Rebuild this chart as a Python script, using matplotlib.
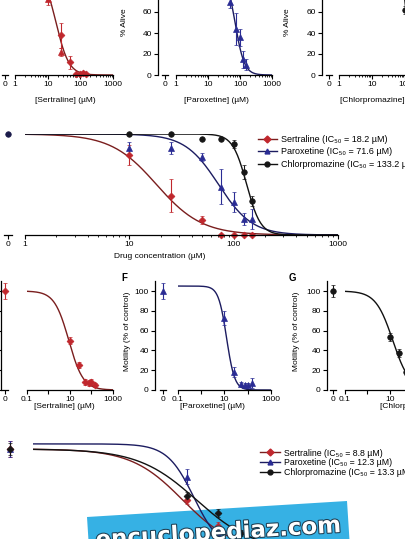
import numpy as np
import matplotlib
matplotlib.use("Agg")
import matplotlib.pyplot as plt
from matplotlib.lines import Line2D
from matplotlib.patches import Polygon
from matplotlib.ticker import FixedLocator, NullLocator
import matplotlib.patheffects as pe

plt.rcParams['font.family'] = ['Liberation Sans', 'DejaVu Sans']
plt.rcParams['font.size'] = 6

# ---- colours ----
RED, BLUE, BLACK = '#c0272d', '#2a2c94', '#161616'
RED_LINE, BLUE_LINE, BLACK_LINE = '#7a1e1e', '#1c1c60', '#111111'

# ---- top row: % alive ----
sert_alive_conc = [25, 50, 75, 100, 125, 150]
sert_alive = [38, 12, 1, 1, 2, 1]
sert_alive_err = [12, 6, 1, 1, 2, 1]
sert_alive_tri_conc = [10, 25]
sert_alive_tri = [72, 22]
sert_alive_tri_err = [5, 4]
parox_alive_conc = [50, 75, 100, 125, 150]
parox_alive = [70, 44, 36, 15, 10]
parox_alive_err = [6, 15, 8, 8, 5]
chlor_alive_conc = [75, 100]
chlor_alive = [99, 62]
chlor_alive_err = [3, 4]
alive_ic50 = [18.0, 70.0, 115.0]
alive_hill = [2.2, 3.0, 6.0]

# ---- panel D: combined viability ----
drug_names = ['Sertraline', 'Paroxetine', 'Chlorpromazine']
d_conc = [10, 25, 50, 75, 100, 125, 150]
d_sert = [79, 39, 15, 0, 0, 0, 0]
d_sert_err = [10, 16, 4, 0, 0, 0, 0]
d_parox = [86, 86, 77, 48, 33, 16, 16]
d_parox_err = [6, 6, 4, 17, 10, 6, 10]
d_chlor = [100, 100, 95, 95, 90, 62, 34]
d_chlor_err = [0, 0, 0, 0, 4, 7, 5]
d_ic50 = [18.2, 71.6, 133.2]
d_hill = [2.0, 2.7, 6.5]

# ---- motility panels E, F, G and combined ----
mot_conc = [10, 25, 50, 75, 100, 150]
sert_mot = [50, 25, 8, 7, 8, 5]
sert_mot_err = [4, 3, 3, 3, 3, 2]
parox_mot = [73, 18, 6, 5, 5, 7]
parox_mot_err = [7, 5, 2, 2, 2, 5]
chlor_mot_conc = [10, 25, 50]
chlor_mot = [54, 37, 18]
chlor_mot_err = [4, 4, 3]
mot_zero = [100, 100, 100]
mot_zero_err = [8, 8, 6]
mot_ic50 = [8.8, 12.3, 13.3]
mot_hill = [1.3, 2.5, 1.15]
mot_top = [100, 105, 100]

W, H = 406, 539
fig = plt.figure(figsize=(W / 100, H / 100), dpi=100)


def make_panel(yax, zero, xlo, xhi, xlim, y0, y100, ymax, seg=3, decade_labels=None,
               minor=True, ylabels=True, yticks=(0, 20, 40, 60, 80, 100)):
    ytop = y0 - (y0 - y100) * ymax / 100.0
    h = y0 - ytop
    ax0 = fig.add_axes([yax / W, 1 - y0 / H, (zero + seg + 1 - yax) / W, h / H])
    ax0.set_xlim(yax - zero, seg + 1)
    ax0.set_ylim(0, ymax)
    ax = fig.add_axes([xlo / W, 1 - y0 / H, (xhi - xlo) / W, h / H])
    ax.set_xscale('log')
    ax.set_xlim(*xlim)
    ax.set_ylim(0, ymax)
    for a in (ax0, ax):
        a.set_facecolor('none')
        a.spines['top'].set_visible(False)
        a.spines['right'].set_visible(False)
        for s in a.spines.values():
            s.set_linewidth(0.9)
        a.tick_params(direction='out', length=3, width=0.8, pad=1.5, labelsize=6)
    ax.spines['left'].set_visible(False)
    ax.tick_params(axis='y', left=False, labelleft=False)
    ax0.spines['bottom'].set_bounds(-seg, seg)
    ax0.set_xticks([0])
    ax0.set_xticklabels(['0'])
    ax0.set_yticks(list(yticks))
    if not ylabels:
        ax0.tick_params(axis='y', labelleft=False)
    decs = [10.0 ** k for k in range(int(np.log10(xlim[0])), int(np.log10(xlim[1])) + 1)]
    ax.xaxis.set_major_locator(FixedLocator(decs))
    labels = []
    for d in decs:
        if decade_labels is None or d in decade_labels:
            labels.append(('%g' % d))
        else:
            labels.append('')
    ax.set_xticklabels(labels)
    if minor:
        mins = [m * d for d in decs[:-1] for m in range(2, 10)]
        ax.xaxis.set_minor_locator(FixedLocator(mins))
        ax.tick_params(axis='x', which='minor', length=1.5, width=0.6)
    else:
        ax.xaxis.set_minor_locator(NullLocator())
    return ax0, ax


def points(ax, x, y, err, marker, color, ms=4):
    c = ax.errorbar(x, y, yerr=err, fmt=marker, color=color, ms=ms, capsize=1.5,
                    elinewidth=0.8, capthick=0.8, mew=0.5)
    for art in c.get_children():
        art.set_clip_on(False)


def curve(ax, lo, hi, ic50, hill, top, color, lw=1.0):
    xs = np.logspace(np.log10(lo), np.log10(hi), 300)
    ax.plot(xs, top / (1 + (xs / ic50) ** hill), color=color, lw=lw, zorder=1)


def ftext(x, y, s, **kw):
    fig.text(x / W, 1 - y / H, s, ha=kw.pop('ha', 'center'), va=kw.pop('va', 'center'), **kw)


# ---- top row ----
top_ticks = (0, 20, 40, 60)
a0, a = make_panel(-8, 5, 15, 113, (1, 1000), 75, -30, 100, ylabels=False, yticks=top_ticks)
curve(a, 1, 1000, alive_ic50[0], alive_hill[0], 100, RED_LINE)
points(a, sert_alive_tri_conc, sert_alive_tri, sert_alive_tri_err, '^', RED)
points(a, sert_alive_conc, sert_alive, sert_alive_err, 'D', RED, ms=3.5)

b0, b = make_panel(158, 165, 176, 272, (1, 1000), 75, -30, 100, yticks=top_ticks)
curve(b, 1, 1000, alive_ic50[1], alive_hill[1], 100, BLUE_LINE)
points(b, parox_alive_conc, parox_alive, parox_alive_err, '^', BLUE)

c0, c = make_panel(322, 329, 339, 438, (1, 1000), 75, -30, 100, yticks=top_ticks)
curve(c, 1, 1000, alive_ic50[2], alive_hill[2], 100, BLACK_LINE)
points(c, chlor_alive_conc, chlor_alive, chlor_alive_err, 'o', BLACK)

ftext(65, 100, '[Sertraline] (\u00b5M)')
ftext(216, 100, '[Paroxetine] (\u00b5M)')
ftext(340, 100, '[Chlorpromazine] (\u00b5M)', ha='left')
ftext(125, 22, '% Alive', rotation=90)
ftext(288, 22, '% Alive', rotation=90)

# ---- panel D ----
d0, d = make_panel(-8, 8, 25, 338, (1, 1000), 235, 134, 100, seg=4, ylabels=False)
curve(d, 1, 1000, d_ic50[0], d_hill[0], 100, RED_LINE)
curve(d, 1, 1000, d_ic50[1], d_hill[1], 100, BLUE_LINE)
curve(d, 1, 1000, d_ic50[2], d_hill[2], 100, BLACK_LINE)
points(d, d_conc, d_sert, d_sert_err, 'D', RED, ms=3.5)
points(d, d_conc, d_parox, d_parox_err, '^', BLUE)
points(d, d_conc, d_chlor, d_chlor_err, 'o', BLACK)
points(d0, [0], [100], [0], 'o', '#1b1b4a')
ftext(160, 256, 'Drug concentration (\u00b5M)')

markers = ['D', '^', 'o']
pcols = [RED, BLUE, BLACK]
lcols = [RED_LINE, BLUE_LINE, BLACK_LINE]
handles = [Line2D([], [], color=lcols[i], marker=markers[i], mfc=pcols[i], mec=pcols[i],
                  ms=3.5, lw=1.0) for i in range(3)]
d_labels = ['%s (IC\u2085\u2080 = %.1f \u00b5M)' % (drug_names[i], d_ic50[i]) for i in range(3)]
fig.legend(handles, d_labels, loc='upper left', bbox_to_anchor=(258 / W, 1 - 135 / H),
           frameon=False, fontsize=6.5, handlelength=2.1, handletextpad=0.4,
           labelspacing=0.38, borderpad=0, borderaxespad=0)

# ---- panels E, F, G ----
e0, e = make_panel(0.5, 5, 27, 113, (0.1, 1000), 390, 291, 110, decade_labels=[0.1, 10, 1000],
                   minor=False, ylabels=False)
curve(e, 0.1, 1000, mot_ic50[0], mot_hill[0], mot_top[0], RED_LINE)
points(e, mot_conc, sert_mot, sert_mot_err, 'D', RED, ms=3.5)
points(e0, [0], [mot_zero[0]], [mot_zero_err[0]], 'D', RED, ms=3.5)

f0, f = make_panel(155, 163, 178, 271, (0.1, 1000), 390, 291, 110, decade_labels=[0.1, 10, 1000], minor=False)
curve(f, 0.1, 1000, mot_ic50[1], mot_hill[1], mot_top[1], BLUE_LINE)
points(f, mot_conc, parox_mot, parox_mot_err, '^', BLUE)
points(f0, [0], [mot_zero[1]], [mot_zero_err[1]], '^', BLUE)

g0, g = make_panel(327, 333, 345, 435, (0.1, 1000), 390, 291, 110, decade_labels=[0.1, 10, 1000], minor=False)
curve(g, 0.1, 1000, mot_ic50[2], mot_hill[2], mot_top[2], BLACK_LINE)
points(g, chlor_mot_conc, chlor_mot, chlor_mot_err, 'o', BLACK)
points(g0, [0], [mot_zero[2]], [mot_zero_err[2]], 'o', BLACK)

ftext(64, 407, '[Sertraline] (\u00b5M)')
ftext(212, 407, '[Paroxetine] (\u00b5M)')
ftext(380, 407, '[Chlorpromazine] (\u00b5M)', ha='left')
ftext(128, 331, 'Motility (% of control)', rotation=90)
ftext(297, 331, 'Motility (% of control)', rotation=90)
ftext(124, 278, 'F', fontsize=7, fontweight='bold')
ftext(292, 278, 'G', fontsize=7, fontweight='bold')

# ---- combined motility ----
h0, hx = make_panel(-8, 10, 33, 341, (0.1, 1000), 551, 449, 110, decade_labels=[0.1, 10, 1000],
                    minor=False, ylabels=False)
curve(hx, 0.1, 1000, mot_ic50[0], mot_hill[0], mot_top[0], RED_LINE)
curve(hx, 0.1, 1000, mot_ic50[1], mot_hill[1], mot_top[1], BLUE_LINE)
curve(hx, 0.1, 1000, mot_ic50[2], mot_hill[2], mot_top[2], BLACK_LINE)
points(hx, mot_conc, sert_mot, sert_mot_err, 'D', RED, ms=3.5)
points(hx, mot_conc, parox_mot, parox_mot_err, '^', BLUE)
points(hx, chlor_mot_conc, chlor_mot, chlor_mot_err, 'D', BLACK, ms=3.5)
points(h0, [0], [mot_zero[0]], [mot_zero_err[0]], 'D', RED, ms=3.5)
points(h0, [0], [mot_zero[1]], [mot_zero_err[1]], '^', BLUE)
points(h0, [0], [mot_zero[2]], [mot_zero_err[2]], 'D', BLACK, ms=3.5)

h_labels = ['%s (IC\u2085\u2080 = %.1f \u00b5M)' % (drug_names[i], mot_ic50[i]) for i in range(3)]
fig.legend(handles, h_labels, loc='upper left', bbox_to_anchor=(260 / W, 1 - 448.5 / H),
           frameon=False, fontsize=6.3, handlelength=2.3, handletextpad=0.4,
           labelspacing=0.1, borderpad=0, borderaxespad=0)

# ---- watermark ----
box = [(87, 517), (347, 501), (350, 548), (90, 564)]
fig.add_artist(Polygon([(x / W, 1 - y / H) for x, y in box], closed=True,
                       transform=fig.transFigure, facecolor='#36b1e4',
                       edgecolor='none', zorder=-1))
fig.text(218 / W, 1 - 533 / H, 'encuclopediaz.com', family='DejaVu Sans', fontsize=16.5,
         fontweight='heavy', color='white', rotation=3.5, ha='center', va='center',
         path_effects=[pe.withStroke(linewidth=1.5, foreground='#1d3c50')], zorder=10)

fig.savefig('out.png', dpi=100)
